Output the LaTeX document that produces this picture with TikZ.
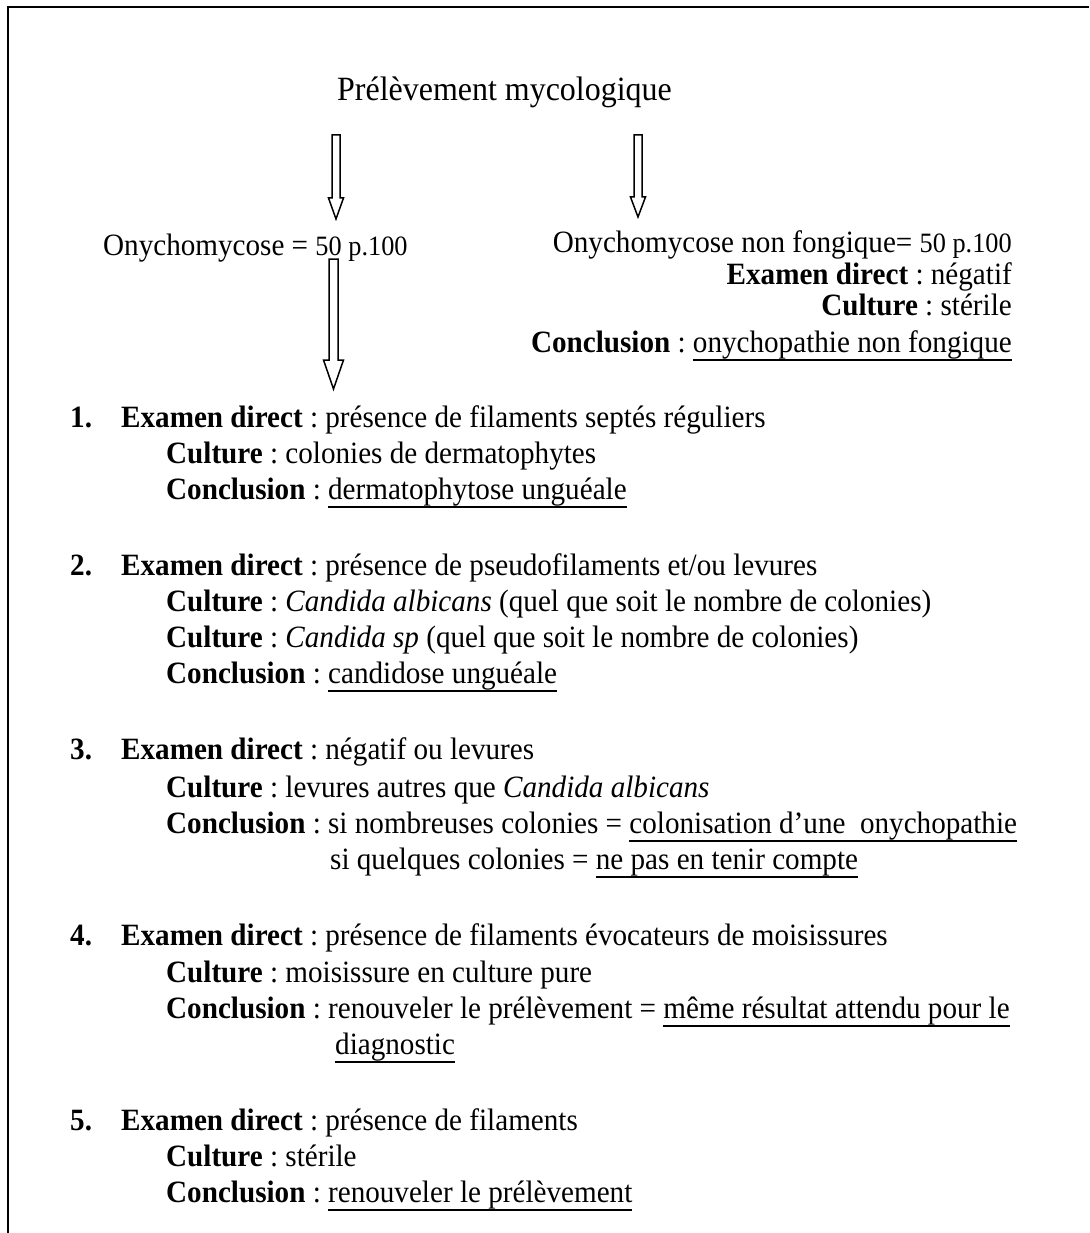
\documentclass[tikz,border=0pt]{standalone}
\usepackage{fontspec}
\setmainfont{Liberation Serif}[FakeStretch=0.94]
\usetikzlibrary{calc}
\newcommand{\ulx}[1]{\leavevmode\setbox0=\hbox{#1}\rlap{\rule[-9pt]{\wd0}{1.6pt}}\box0}
\newcommand{\smallpct}[1]{{\fontsize{28}{30}\selectfont #1}}
\newcommand{\blockarrow}[5]{%
  \draw[blk] ($(#1)+(-#3,0)$) -- ($(#2)+(-#3,-#5)$) -- ($(#2)+(-#4,-#5)$) -- (#2)
    -- ($(#2)+(#4,-#5)$) -- ($(#2)+(#3,-#5)$) -- ($(#1)+(#3,0)$) -- cycle;}
\tikzset{
  txt/.style={inner sep=0pt, anchor=base west, font=\fontsize{31}{36}\selectfont},
  rtxt/.style={inner sep=0pt, anchor=base east, font=\fontsize{31}{36}\selectfont},
  blk/.style={draw, line width=1.5pt, line join=miter, fill=white},
  frame/.style={line width=2pt}
}
\begin{document}
\frenchspacing
\begin{tikzpicture}[x=1pt, y=-1pt]
\useasboundingbox (0,0) rectangle (1089,1233);
% frame
\draw[frame] (8,1233) -- (8,7) -- (1089,7);
% heading
\node[txt, font=\fontsize{34}{38}\selectfont] (head) at (337,101) {Prélèvement mycologique};
% left branch
\node[txt] (onyL) at (103,255) {Onychomycose = \smallpct{50 p.100}};
% right branch
\node[rtxt] (onyR) at (1012,252) {Onychomycose non fongique= \smallpct{50 p.100}};
\node[rtxt] (edR) at (1012,284) {\textbf{Examen direct} : négatif};
\node[rtxt] (cuR) at (1012,315) {\textbf{Culture} : stérile};
\node[rtxt] (coR) at (1012,352) {\textbf{Conclusion} : \ulx{onychopathie non fongique}};
% arrows
\coordinate (a1s) at (336,135); \coordinate (a1e) at (336,219);
\coordinate (a2s) at (638,135); \coordinate (a2e) at (638,217);
\coordinate (a3s) at (333.5,259); \coordinate (a3e) at (333.5,389);
\blockarrow{a1s}{a1e}{4}{7.5}{21}
\blockarrow{a2s}{a2e}{4}{7.5}{20}
\blockarrow{a3s}{a3e}{4.5}{10}{29}
% item 1
\node[txt] (n1) at (70,427) {\textbf{1.}};
\node[txt] (e1) at (121,427) {\textbf{Examen direct} : présence de filaments septés réguliers};
\node[txt] (c1) at (166,463) {\textbf{Culture} : colonies de dermatophytes};
\node[txt] (k1) at (166,499) {\textbf{Conclusion} : \ulx{dermatophytose unguéale}};
% item 2
\node[txt] (n2) at (70,575) {\textbf{2.}};
\node[txt] (e2) at (121,575) {\textbf{Examen direct} : présence de pseudofilaments et/ou levures};
\node[txt] (c2a) at (166,611) {\textbf{Culture} : \textit{Candida albicans} (quel que soit le nombre de colonies)};
\node[txt] (c2b) at (166,647) {\textbf{Culture} : \textit{Candida sp} (quel que soit le nombre de colonies)};
\node[txt] (k2) at (166,683) {\textbf{Conclusion} : \ulx{candidose unguéale}};
% item 3
\node[txt] (n3) at (70,759) {\textbf{3.}};
\node[txt] (e3) at (121,759) {\textbf{Examen direct} : négatif ou levures};
\node[txt] (c3) at (166,797) {\textbf{Culture} : levures autres que \textit{Candida albicans}};
\node[txt] (k3) at (166,833) {\textbf{Conclusion} : si nombreuses colonies = \ulx{colonisation d’une\ \ onychopathie}};
\node[txt] (k3b) at (330,869) {si quelques colonies = \ulx{ne pas en tenir compte}};
% item 4
\node[txt] (n4) at (70,945) {\textbf{4.}};
\node[txt] (e4) at (121,945) {\textbf{Examen direct} : présence de filaments évocateurs de moisissures};
\node[txt] (c4) at (166,982) {\textbf{Culture} : moisissure en culture pure};
\node[txt] (k4) at (166,1018) {\textbf{Conclusion} : renouveler le prélèvement = \ulx{même résultat attendu pour le}};
\node[txt] (k4b) at (335,1054) {\ulx{diagnostic}};
% item 5
\node[txt] (n5) at (70,1130) {\textbf{5.}};
\node[txt] (e5) at (121,1130) {\textbf{Examen direct} : présence de filaments};
\node[txt] (c5) at (166,1166) {\textbf{Culture} : stérile};
\node[txt] (k5) at (166,1202) {\textbf{Conclusion} : \ulx{renouveler le prélèvement}};
\end{tikzpicture}
\end{document}
